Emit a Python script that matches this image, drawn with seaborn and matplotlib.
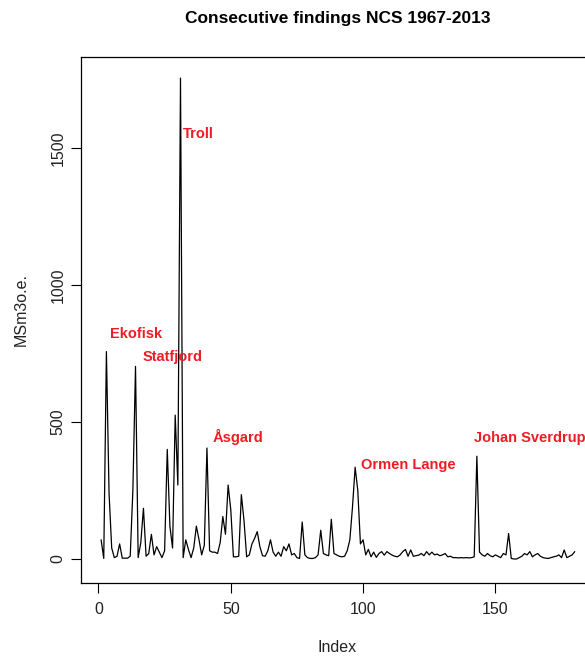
import matplotlib
matplotlib.use("Agg")
import matplotlib.pyplot as plt
import pandas as pd
import seaborn as sns

# Discovered volumes per consecutive finding (MSm3 o.e.), index 1..180
values = [
    70, 2, 757, 240, 40, 5, 10, 55, 3, 3,
    3, 10, 250, 703, 5, 60, 185, 10, 20, 90,
    15, 45, 25, 5, 30, 400, 120, 40, 525, 270,
    1755, 5, 70, 35, 5, 40, 120, 70, 15, 50,
    405, 30, 25, 25, 20, 60, 155, 90, 270, 180,
    8, 8, 10, 235, 140, 8, 15, 55, 75, 100,
    45, 12, 10, 30, 70, 25, 10, 25, 10, 45,
    30, 55, 15, 20, 5, 2, 135, 15, 5, 2,
    2, 5, 15, 105, 20, 15, 12, 145, 20, 15,
    10, 8, 10, 30, 70, 190, 335, 250, 55, 70,
    15, 35, 8, 25, 6, 20, 27, 14, 27, 20,
    14, 10, 8, 15, 27, 35, 10, 33, 10, 12,
    14, 20, 12, 27, 15, 25, 15, 18, 12, 15,
    20, 8, 10, 5, 5, 4, 5, 4, 5, 4,
    5, 8, 375, 25, 15, 10, 20, 12, 8, 15,
    10, 5, 20, 15, 93, 2, 0, 0, 5, 10,
    20, 15, 27, 8, 15, 20, 10, 5, 3, 2,
    5, 8, 10, 15, 5, 33, 5, 10, 15, 27,
]
index = list(range(1, len(values) + 1))

field_names = ["Ekofisk", "Statfjord", "Troll", "Åsgard", "Ormen Lange", "Johan Sverdrup"]
field_x = [4.3, 16.8, 31.9, 43.3, 99.2, 142.0]
field_y = [821, 737, 1551, 445, 343, 442]

xticks = [0, 50, 100, 150]
yticks = [0, 500, 1000, 1500]

sns.set_theme(style="ticks")
plt.rcParams["font.family"] = ["Liberation Sans", "DejaVu Sans"]
tick_fs = 11.5
title_fs = 12.5
lab_fs = 10.5

fig = plt.figure(figsize=(5.85, 6.59), dpi=100)
fig.patch.set_facecolor("white")
ax = fig.add_axes([81 / 585, 1 - 583 / 659, 511.5 / 585, 526 / 659])
ax.set_facecolor("white")

df = pd.DataFrame({"Index": index, "MSm3o.e.": values})
sns.lineplot(data=df, x="Index", y="MSm3o.e.", color="black", linewidth=0.9, ax=ax)

ax.set_xlim(-6.6, 186.7)
ax.set_ylim(-87.6, 1832)
ax.set_xticks(xticks)
ax.set_yticks(yticks)
ax.set_xticklabels([str(t) for t in xticks])
ax.set_yticklabels([str(t) for t in yticks])
ax.tick_params(axis="both", direction="out", length=7, width=0.8, color="black",
               labelsize=tick_fs, labelcolor="#222222")
ax.tick_params(axis="x", pad=7)
ax.tick_params(axis="y", pad=4)
for lab in ax.get_yticklabels():
    lab.set_rotation(90)
    lab.set_va("center")
    lab.set_ha("right")

for sp in ax.spines.values():
    sp.set_color("black")
    sp.set_linewidth(0.9)
    sp.set_visible(True)

ax.set_xlabel("Index", fontsize=tick_fs, color="#222222")
ax.set_ylabel("MSm3o.e.", fontsize=tick_fs, color="#222222")
ax.xaxis.set_label_coords(0.5, -0.108)
ax.yaxis.set_label_coords(-0.1017, 0.52)
ax.grid(False)

fig.text(338 / 585, 1 - 18 / 659, "Consecutive findings NCS 1967-2013",
         ha="center", va="center", fontsize=title_fs, fontweight="bold", color="black")

for name, x, y in zip(field_names, field_x, field_y):
    ax.text(x, y, name, color="#ee1c24", fontweight="bold", fontsize=lab_fs,
            ha="left", va="center", clip_on=False)

fig.savefig("out.png", dpi=100, facecolor="white")
